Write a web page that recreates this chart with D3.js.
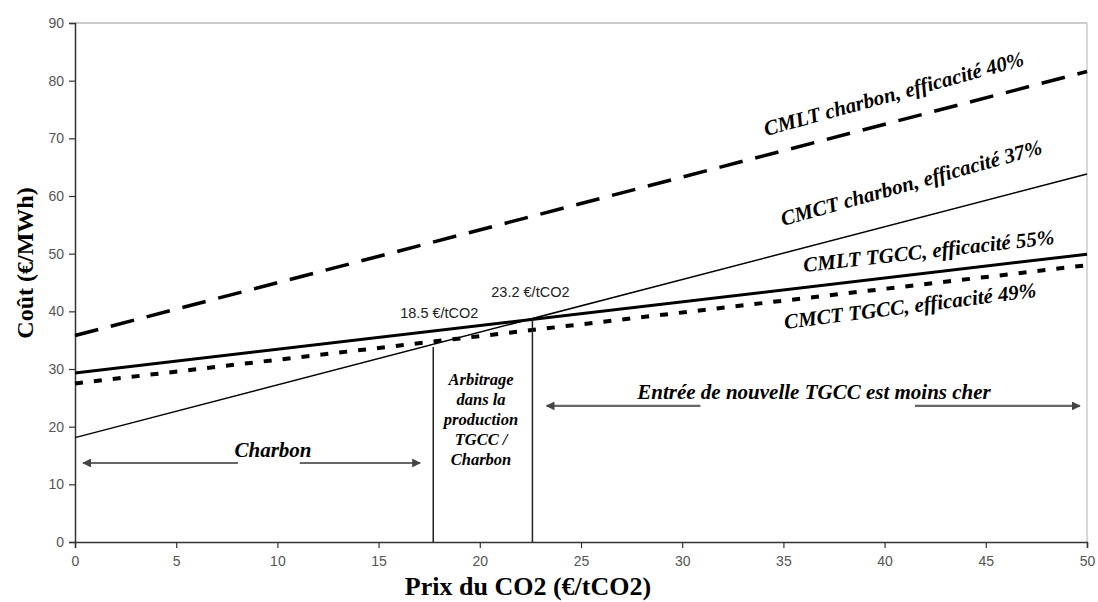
<!DOCTYPE html>
<html><head><meta charset="utf-8">
<script src="https://cdn.jsdelivr.net/npm/d3@7"></script>
<style>body{margin:0;background:#fff}svg{display:block}</style>
</head><body><svg id="c" width="1098" height="602"></svg>
<script>
// ---- data ----
const co2Price = [0, 50];
const cmltCharbon40 = [35.8, 81.6];
const cmctCharbon37 = [18.1, 63.8];
const cmltTGCC55 = [29.3, 49.9];
const cmctTGCC49 = [27.5, 48.0];
const xTicks = [0,5,10,15,20,25,30,35,40,45,50];
const yTicks = [0,10,20,30,40,50,60,70,80,90];
const thresholdX = [17.7, 22.6];
const thresholdY = [33.8, 38.6];
const thresholdLabels = ["18.5 €/tCO2", "23.2 €/tCO2"];
const curveLabels = ["CMLT charbon, efficacité 40%", "CMCT charbon, efficacité 37%", "CMLT TGCC, efficacité 55%", "CMCT TGCC, efficacité 49%"];
const arbitrageLines = ["Arbitrage", "dans la", "production", "TGCC /", "Charbon"];
const zoneLabels = ["Charbon", "Entrée de nouvelle TGCC est moins cher"];

const svg = d3.select("#c");
const x = d3.scaleLinear().domain([0,50]).range([75,1087]);
const y = d3.scaleLinear().domain([0,90]).range([542,23]);

// frame top/right
svg.append("line").attr("x1",x(0)).attr("x2",x(50)).attr("y1",y(90)).attr("y2",y(90)).attr("stroke","#bbb").attr("stroke-width",1.5);
svg.append("line").attr("x1",x(50)).attr("x2",x(50)).attr("y1",y(90)).attr("y2",y(0)).attr("stroke","#ccc").attr("stroke-width",1.5);

// axes
const gx = svg.append("g").attr("transform",`translate(0,${y(0)})`).call(d3.axisBottom(x).tickValues(xTicks).tickSize(6).tickPadding(8));
const gy = svg.append("g").attr("transform",`translate(${x(0)},0)`).call(d3.axisLeft(y).tickValues(yTicks).tickSize(6).tickPadding(5));
[gx,gy].forEach(g=>{
  g.select(".domain").attr("stroke","#333").attr("stroke-width",1.5);
  g.selectAll(".tick line").attr("stroke","#333").attr("stroke-width",1.2);
  g.selectAll(".tick text").attr("fill","#555").style("font-family","'Liberation Sans',Arial,sans-serif").style("font-size","14px");
});

const line = d3.line().x(d=>x(d[0])).y(d=>y(d[1]));
const series = [
  {v:cmltCharbon40, w:3.5, dash:"24,13"},
  {v:cmctCharbon37, w:1.5, dash:null},
  {v:cmltTGCC55, w:3, dash:null},
  {v:cmctTGCC49, w:4, dash:"8,11"}
];
series.forEach(s=>{
  svg.append("path").attr("d", line(co2Price.map((p,i)=>[p,s.v[i]])))
    .attr("fill","none").attr("stroke","#000").attr("stroke-width",s.w)
    .attr("stroke-dasharray",s.dash);
});

// threshold verticals
thresholdX.forEach((t,i)=>{
  svg.append("line").attr("x1",x(t)).attr("x2",x(t)).attr("y1",y(0)).attr("y2",y(thresholdY[i])).attr("stroke","#222").attr("stroke-width",1.5);
});
svg.append("text").attr("x",x(18.0)).attr("y",318).attr("text-anchor","middle").text(thresholdLabels[0])
  .style("font-family","'Liberation Sans',Arial,sans-serif").style("font-size","14.5px").attr("fill","#222");
svg.append("text").attr("x",x(22.5)).attr("y",297).attr("text-anchor","middle").text(thresholdLabels[1])
  .style("font-family","'Liberation Sans',Arial,sans-serif").style("font-size","14.5px").attr("fill","#222");

const serif = "'Liberation Serif','Times New Roman',serif";
// curve labels
const lp = [[766,136,-15.3],[783,226,-15.6],[804,272,-6.4],[785,329,-7.3]];
curveLabels.forEach((t,i)=>{
  svg.append("text").attr("transform",`translate(${lp[i][0]},${lp[i][1]}) rotate(${lp[i][2]})`)
    .text(t).style("font-family",serif).style("font-size","21px").style("font-weight","bold").style("font-style","italic");
});

// arbitrage text
arbitrageLines.forEach((t,i)=>{
  svg.append("text").attr("x",481).attr("y",385+i*20).attr("text-anchor","middle").text(t)
    .style("font-family",serif).style("font-size","16.5px").style("font-weight","bold").style("font-style","italic");
});

// arrows
const defs = svg.append("defs");
defs.append("marker").attr("id","ah").attr("viewBox","0 0 10 10").attr("refX",9).attr("refY",5)
  .attr("markerWidth",4).attr("markerHeight",4).attr("orient","auto-start-reverse")
  .append("path").attr("d","M0,0L10,5L0,10z").attr("fill","#444");
function seg(x1,x2,yv,m1,m2){
  const l = svg.append("line").attr("x1",x(x1)).attr("x2",x(x2)).attr("y1",y(yv)).attr("y2",y(yv))
    .attr("stroke","#666").attr("stroke-width",2.2);
  if(m1) l.attr("marker-start","url(#ah)");
  if(m2) l.attr("marker-end","url(#ah)");
}
seg(0.4, 8.05, 13.7, true, false);
seg(11.1, 17.05, 13.7, false, true);
seg(23.3, 30.9, 23.6, true, false);
seg(41.5, 49.65, 23.6, false, true);
svg.append("text").attr("x",273).attr("y",457).attr("text-anchor","middle").text(zoneLabels[0])
  .style("font-family",serif).style("font-size","21px").style("font-weight","bold").style("font-style","italic");
svg.append("text").attr("x",814).attr("y",399).attr("text-anchor","middle").text(zoneLabels[1])
  .style("font-family",serif).style("font-size","21px").style("font-weight","bold").style("font-style","italic");

// axis titles
svg.append("text").attr("x",528).attr("y",595).attr("text-anchor","middle").text("Prix du CO2 (€/tCO2)")
  .style("font-family",serif).style("font-size","26px").style("font-weight","bold");
svg.append("text").attr("transform","translate(33,263) rotate(-90)").attr("text-anchor","middle").text("Coût (€/MWh)")
  .style("font-family",serif).style("font-size","24px").style("font-weight","bold");
</script></body></html>
